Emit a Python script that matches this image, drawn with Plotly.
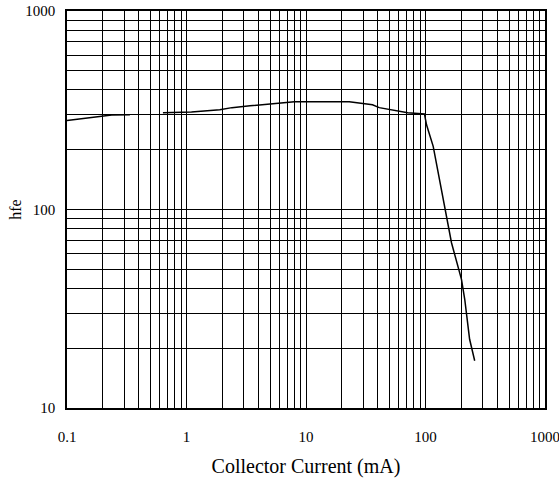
import plotly.graph_objects as go

# Curve segment 1 (low current), then a gap, then segment 2
current_a = [0.1, 0.141, 0.237, 0.336]
hfe_a = [281, 289, 299, 300]

current_b = [0.635, 1.1, 1.9, 2.4, 3.4, 5.3, 8, 23, 36, 41, 55, 71, 98,
             102, 116, 140, 165, 200, 213, 234, 258]
hfe_b = [307, 310, 318, 326, 333, 340, 349, 349, 337, 326, 316, 307, 303,
         267, 208, 117, 68, 44.5, 35.3, 22.2, 17.3]

x_decades = [0.1, 1, 10, 100]
x_labels = ["0.1", "1", "10", "100", "1000"]
y_decades = [10, 100]
y_labels = ["10", "100", "1000"]

x_vals, x_text = [], []
for i, d in enumerate(x_decades):
    for m in range(1, 10):
        x_vals.append(d * m)
        x_text.append(x_labels[i] if m == 1 else "")
x_vals.append(1000)
x_text.append(x_labels[-1])

y_vals, y_text = [], []
for i, d in enumerate(y_decades):
    for m in range(1, 10):
        y_vals.append(d * m)
        y_text.append(y_labels[i] if m == 1 else "")
y_vals.append(1000)
y_text.append(y_labels[-1])

fam = "Liberation Serif, Times New Roman, serif"
tick_font = dict(family=fam, size=15, color="black")
title_font = dict(family=fam, size=20, color="black")
ytitle_font = dict(family=fam, size=16, color="black")

fig = go.Figure()
fig.add_trace(go.Scatter(x=current_a + [None] + current_b,
                         y=hfe_a + [None] + hfe_b,
                         mode="lines", line=dict(color="black", width=1.5),
                         connectgaps=False, showlegend=False, hoverinfo="skip"))

fig.update_layout(
    width=559, height=484,
    margin=dict(l=67, r=14, t=11, b=76),
    paper_bgcolor="white", plot_bgcolor="white",
    font=tick_font,
    xaxis=dict(type="log", range=[-1, 3], tickmode="array", tickvals=x_vals,
               ticktext=x_text, showgrid=True, gridcolor="black", gridwidth=1.4,
               showline=True, linecolor="black", linewidth=1.6, mirror=True,
               ticks="", ticklabelstandoff=14, zeroline=False, automargin=False,
               ticklabeloverflow="allow", tickfont=tick_font,
               title=dict(text="Collector Current (mA)", font=title_font, standoff=15)),
    yaxis=dict(type="log", range=[1, 3], tickmode="array", tickvals=y_vals,
               ticktext=y_text, showgrid=True, gridcolor="black", gridwidth=1.4,
               showline=True, linecolor="black", linewidth=1.6, mirror=True,
               ticks="", ticklabelstandoff=7, zeroline=False, automargin=False,
               ticklabeloverflow="allow", tickfont=tick_font,
               title=dict(text="hfe", font=ytitle_font, standoff=0)),
)

fig.write_html("out.html", config={"displayModeBar": False},
               post_script="document.body.style.margin='0';document.body.style.overflow='hidden';")
